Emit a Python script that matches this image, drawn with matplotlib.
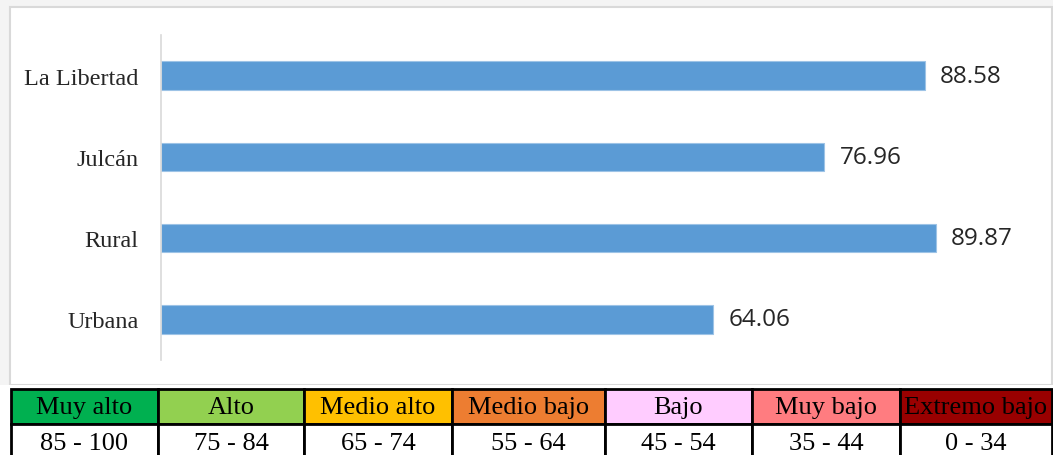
import matplotlib
matplotlib.use("Agg")
import matplotlib.pyplot as plt
from matplotlib.patches import Rectangle

# ---- data ----
categories = ["La Libertad", "Julcán", "Rural", "Urbana"]
values = [88.58, 76.96, 89.87, 64.06]

legend_labels = ["Muy alto", "Alto", "Medio alto", "Medio bajo", "Bajo", "Muy bajo", "Extremo bajo"]
legend_ranges = ["85 - 100", "75 - 84", "65 - 74", "55 - 64", "45 - 54", "35 - 44", "0 - 34"]
legend_colors = ["#00b050", "#92d050", "#ffc000", "#ed7d31", "#ffccff", "#ff7c80", "#990000"]

W, H = 1053, 456
fig = plt.figure(figsize=(W / 100, H / 100), dpi=100)
fig.patch.set_facecolor("#f4f4f4")

# background / frame layer in pixel coordinates
bg = fig.add_axes([0, 0, 1, 1])
bg.set_xlim(0, W)
bg.set_ylim(H, 0)
bg.axis("off")
bg.add_patch(Rectangle((10, 8), 1042, 378, facecolor="white", edgecolor="#d9d9d9", lw=1.5))
bg.add_patch(Rectangle((0, 386), W, H - 386, facecolor="white", edgecolor="none"))

# ---- bar chart ----
x0, x1 = 161, 1040
y_top, y_bot = 36, 361
ax = fig.add_axes([x0 / W, (H - y_bot) / H, (x1 - x0) / W, (y_bot - y_top) / H])
ax.set_facecolor("none")
ypos = list(range(len(categories)))
ax.barh(ypos, values, height=0.35, color="#5b9bd5", edgecolor="#9dc3e6", lw=0.8)
ax.set_xlim(0, (x1 - x0) / 8.62)
ax.set_ylim(len(categories) - 0.5, -0.5)
ax.set_yticks(ypos)
ax.set_yticklabels(categories, fontsize=17.5, family=["Liberation Serif"], color="#262626")
ax.tick_params(axis="y", length=0, pad=16)
ax.set_xticks([])
for s in ["top", "right", "bottom"]:
    ax.spines[s].set_visible(False)
ax.spines["left"].set_color("#d9d9d9")
ax.spines["left"].set_linewidth(1.2)
for y, v in zip(ypos, values):
    ax.annotate(f"{v:.2f}", (v, y), xytext=(11, 0), textcoords="offset points",
                va="center", ha="left", fontsize=17.5, family=["Open Sans"], color="#262626")

# ---- legend table ----
edges = [11, 158, 304, 452, 605, 752, 900, 1052]
r0, r1, r2 = 390, 425, 462
for i, (lab, rng, col) in enumerate(zip(legend_labels, legend_ranges, legend_colors)):
    xa, xb = edges[i], edges[i + 1]
    bg.add_patch(Rectangle((xa, r0), xb - xa, r1 - r0, facecolor=col, edgecolor="black", lw=2))
    bg.add_patch(Rectangle((xa, r1), xb - xa, r2 - r1, facecolor="white", edgecolor="black", lw=2))
    bg.text((xa + xb) / 2, (r0 + r1) / 2 + 1, lab, ha="center", va="center",
            fontsize=19, family=["Liberation Serif"], color="black")
    bg.text((xa + xb) / 2, 444, rng, ha="center", va="center",
            fontsize=19, family=["Liberation Serif"], color="black")

fig.savefig("out.png", dpi=100)
